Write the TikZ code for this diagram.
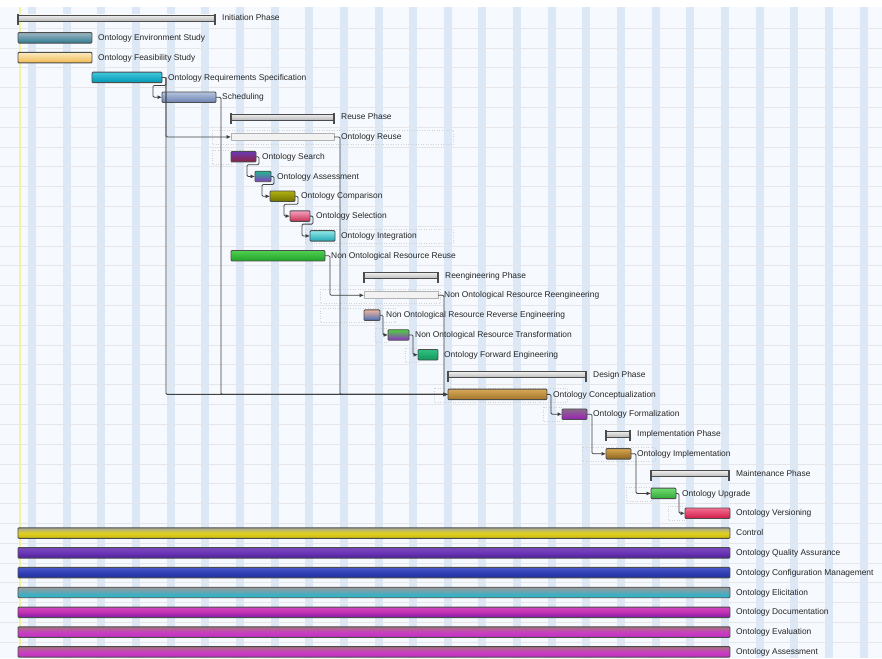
\documentclass[tikz,border=0pt]{standalone}
\usepackage{fontspec}
\setmainfont{Liberation Sans}
\usetikzlibrary{arrows.meta}
\usepackage{xcolor}
\definecolor{paper}{HTML}{F6F9FD}
\definecolor{stripe}{HTML}{DCE8F6}
\definecolor{rowline}{HTML}{E4E6EA}
\definecolor{todayline}{HTML}{F2F2A0}
\definecolor{envtop}{HTML}{9DB6C2}\definecolor{envbot}{HTML}{2E7C92}
\definecolor{feastop}{HTML}{FBEBC0}\definecolor{feasbot}{HTML}{F0B850}
\definecolor{orstop}{HTML}{40C8DC}\definecolor{orsbot}{HTML}{0096B4}
\definecolor{schedtop}{HTML}{B4C4DE}\definecolor{schedbot}{HTML}{6A80B0}
\definecolor{srchtop}{HTML}{6A3CB4}\definecolor{srchbot}{HTML}{8C2040}
\definecolor{asstop}{HTML}{20B890}\definecolor{assbot}{HTML}{8A3CC0}
\definecolor{cmptop}{HTML}{B0B010}\definecolor{cmpbot}{HTML}{6E7000}
\definecolor{seltop}{HTML}{F4A0C0}\definecolor{selbot}{HTML}{C83050}
\definecolor{inttop}{HTML}{90E8E8}\definecolor{intbot}{HTML}{20A8B8}
\definecolor{nrrtop}{HTML}{50D050}\definecolor{nrrbot}{HTML}{20A028}
\definecolor{revtop}{HTML}{F0B49C}\definecolor{revbot}{HTML}{4870B8}
\definecolor{trntop}{HTML}{50D040}\definecolor{trnbot}{HTML}{9030C8}
\definecolor{fwdtop}{HTML}{30C080}\definecolor{fwdbot}{HTML}{10985A}
\definecolor{cnctop}{HTML}{D8A858}\definecolor{cncbot}{HTML}{A07428}
\definecolor{frmtop}{HTML}{8A6A8A}\definecolor{frmbot}{HTML}{9A20B8}
\definecolor{imptop}{HTML}{D8A850}\definecolor{impbot}{HTML}{8C6420}
\definecolor{upgtop}{HTML}{70DC70}\definecolor{upgbot}{HTML}{30A838}
\definecolor{vertop}{HTML}{F27090}\definecolor{verbot}{HTML}{D01848}
\definecolor{ctltop}{HTML}{A8A898}\definecolor{ctlmid}{HTML}{E0D020}\definecolor{ctlbot}{HTML}{C8B810}
\definecolor{qatop}{HTML}{7A4AC0}\definecolor{qamid}{HTML}{6A34B4}\definecolor{qabot}{HTML}{4A2098}
\definecolor{cfgtop}{HTML}{4858C8}\definecolor{cfgmid}{HTML}{3040B4}\definecolor{cfgbot}{HTML}{20309C}
\definecolor{elctop}{HTML}{9A9A9A}\definecolor{elcmid}{HTML}{5AA8B8}\definecolor{elcbot}{HTML}{18B8CC}
\definecolor{doctop}{HTML}{D048C0}\definecolor{docmid}{HTML}{C030B0}\definecolor{docbot}{HTML}{7A1AA8}
\definecolor{evltop}{HTML}{A87080}\definecolor{evlmid}{HTML}{C840C0}\definecolor{evlbot}{HTML}{C030C0}
% one bar of the chart: name, row, start, end, colours, text
\newcommand\task[8][]{%
  \pgfmathsetmacro\ty{18+19.81*#3}
  \node[taskbar,minimum width={(#5-#4)*1pt},top color=#6,bottom color=#7,#1] (#2) at ({(#4+#5)/2},\ty) {};
  \node[tasklabel] (#2-l) at ([xshift=6pt]#2.east) {#8};}
\newcommand\phase[5]{%
  \pgfmathsetmacro\ty{18+19.81*#2}
  \node[phasebar,minimum width={(#4-#3)*1pt}] (#1) at ({(#3+#4)/2},\ty) {};
  \draw[phasetick] ([yshift=1pt]#1.north west) -- ([yshift=-4pt]#1.south west);
  \draw[phasetick] ([yshift=1pt]#1.north east) -- ([yshift=-4pt]#1.south east);
  \node[tasklabel] (#1-l) at ([xshift=7pt]#1.east) {#5};}

\begin{document}
\begin{tikzpicture}[x=1pt,y=-1pt,
    taskbar/.style={draw=black!70,line width=.9pt,rounded corners=1pt,minimum height=10.5pt,inner sep=0pt,outer sep=0pt},
    phasebar/.style={draw=black!70,line width=.9pt,top color=gray!12,bottom color=gray!55,minimum height=6pt,inner sep=0pt,outer sep=0pt},
    phasetick/.style={black!70,line width=1.6pt},
    hollowbar/.style={draw=gray!60,fill=gray!10,line width=.8pt,minimum height=7pt,inner sep=0pt,outer sep=0pt},
    tasklabel/.style={anchor=mid west,inner sep=0pt,font=\fontsize{8.4}{9}\selectfont,text=black!85},
    link/.style={draw=black!75,line width=.8pt,rounded corners=1.2pt,-{Latex[length=4.5pt,width=4pt]}},
    slack/.style={draw=gray!35,dotted,line width=.5pt}
  ]
  \useasboundingbox (0,0) rectangle (882,658);
  \fill[white] (0,0) rectangle (882,658);
  \fill[paper] (0,7) rectangle (882,658);
  \foreach \k in {0,...,24}
    \fill[stripe] ({28+34.65*\k},7) rectangle ++(8,651);
  \foreach \k in {0,...,31}
    \draw[rowline,line width=.6pt] (0,{28+19.81*\k}) -- (882,{28+19.81*\k});
  \draw[todayline,line width=1.5pt] (20,7) -- (20,658);

  % selection frames
  \draw[slack] (212,130) rectangle (453,144);
  \draw[slack] (212,150) rectangle (231,164);
  \draw[slack] (305,229) rectangle (453,243);
  \draw[slack] (320,289) rectangle (440,303);
  \draw[slack] (320,308) rectangle (395,322);
  \draw[slack] (375,328) rectangle (388,342);
  \draw[slack] (405,348) rectangle (418,362);
  \draw[slack] (434,388) rectangle (567,402);
  \draw[slack] (543,407) rectangle (562,421);
  \draw[slack] (582,447) rectangle (655,461);
  \draw[slack] (626,487) rectangle (651,501);
  \draw[slack] (668,506) rectangle (685,520);

  \phase{init}{0}{18}{215}{Initiation Phase}
  \task{env}{1}{18}{92}{envtop}{envbot}{Ontology Environment Study}
  \task{feas}{2}{18}{92}{feastop}{feasbot}{Ontology Feasibility Study}
  \task{ors}{3}{92}{162}{orstop}{orsbot}{Ontology Requirements Specification}
  \task{sched}{4}{162}{216}{schedtop}{schedbot}{Scheduling}
  \phase{reuseph}{5}{231}{334}{Reuse Phase}
  \node[hollowbar,minimum width=103pt] (oreuse) at (282.5,136.9) {};
  \node[tasklabel] (oreuse-l) at ([xshift=7pt]oreuse.east) {Ontology Reuse};
  \task{search}{7}{231}{256}{srchtop}{srchbot}{Ontology Search}
  \task{assess}{8}{255}{271}{asstop}{assbot}{Ontology Assessment}
  \task{compar}{9}{270}{295}{cmptop}{cmpbot}{Ontology Comparison}
  \task{select}{10}{290}{310}{seltop}{selbot}{Ontology Selection}
  \task{integ}{11}{310}{335}{inttop}{intbot}{Ontology Integration}
  \task{norreuse}{12}{231}{325}{nrrtop}{nrrbot}{Non Ontological Resource Reuse}
  \phase{reengph}{13}{364}{438}{Reengineering Phase}
  \node[hollowbar,minimum width=74pt] (norreeng) at (401,295.3) {};
  \node[tasklabel] (norreeng-l) at ([xshift=6pt]norreeng.east) {Non Ontological Resource Reengineering};
  \task{reverse}{15}{364}{380}{revtop}{revbot}{Non Ontological Resource Reverse Engineering}
  \task{transf}{16}{388}{409}{trntop}{trnbot}{Non Ontological Resource Transformation}
  \task{forward}{17}{418}{438}{fwdtop}{fwdbot}{Ontology Forward Engineering}
  \phase{designph}{18}{448}{586}{Design Phase}
  \task{concept}{19}{448}{547}{cnctop}{cncbot}{Ontology Conceptualization}
  \task{formal}{20}{562}{587}{frmtop}{frmbot}{Ontology Formalization}
  \phase{implph}{21}{606}{630}{Implementation Phase}
  \task{implem}{22}{606}{631}{imptop}{impbot}{Ontology Implementation}
  \phase{maintph}{23}{651}{729}{Maintenance Phase}
  \task{upgrade}{24}{651}{676}{upgtop}{upgbot}{Ontology Upgrade}
  \task{version}{25}{685}{730}{vertop}{verbot}{Ontology Versioning}
  \task[middle color=ctlmid]{control}{26}{18}{730}{ctltop}{ctlbot}{Control}
  \task[middle color=qamid]{quality}{27}{18}{730}{qatop}{qabot}{Ontology Quality Assurance}
  \task[middle color=cfgmid]{config}{28}{18}{730}{cfgtop}{cfgbot}{Ontology Configuration Management}
  \task[middle color=elcmid]{elicit}{29}{18}{730}{elctop}{elcbot}{Ontology Elicitation}
  \task[middle color=docmid]{document}{30}{18}{730}{doctop}{docbot}{Ontology Documentation}
  \task[middle color=evlmid]{evaluat}{31}{18}{730}{evltop}{evlbot}{Ontology Evaluation}
  \task[middle color=evlmid]{assessm}{32}{18}{730}{evltop}{evlbot}{Ontology Assessment}

  % links
  \draw[link] (ors.east) -- ++(4,0) -- ++(0,8) -| ([xshift=-9pt]sched.west) -- (sched.west);
  \draw[link] ([xshift=4pt]ors.east) |- (oreuse.west);
  \draw[link] ([xshift=4pt]ors.east) |- (concept.west);
  \draw[link] (sched.east) -- ++(5,0) |- (concept.west);
  \draw[link] (oreuse.east) -- ++(6,0) |- (concept.west);
  \draw[link] (search.east) -- ++(3,0) -- ++(0,8) -| ([xshift=-8pt]assess.west) -- (assess.west);
  \draw[link] (assess.east) -- ++(3,0) -- ++(0,8) -| ([xshift=-8pt]compar.west) -- (compar.west);
  \draw[link] (compar.east) -- ++(3,0) -- ++(0,8) -| ([xshift=-6pt]select.west) -- (select.west);
  \draw[link] (select.east) -- ++(3,0) -- ++(0,8) -| ([xshift=-8pt]integ.west) -- (integ.west);
  \draw[link] (norreuse.east) -- ++(5,0) |- (norreeng.west);
  \draw[link] (norreeng.east) -- ++(6,0) |- (concept.west);
  \draw[link] (reverse.east) -- ++(3,0) |- (transf.west);
  \draw[link] (transf.east) -- ++(4,0) |- (forward.west);
  \draw[link] (concept.east) -- ++(4,0) |- (formal.west);
  \draw[link] (formal.east) -- ++(5,0) |- (implem.west);
  \draw[link] (implem.east) -- ++(5,0) |- (upgrade.west);
  \draw[link] (upgrade.east) -- ++(3,0) |- (version.west);
\end{tikzpicture}
\end{document}
